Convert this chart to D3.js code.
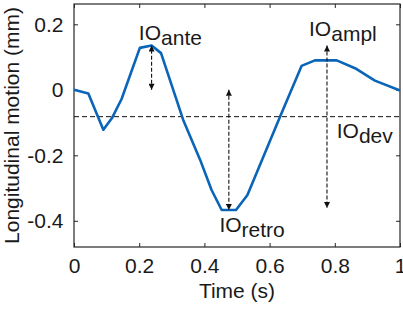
<!DOCTYPE html>
<html>
<head>
<meta charset="utf-8">
<script src="https://cdn.jsdelivr.net/npm/d3@7"></script>
<style>
  body { margin: 0; background: #fff; }
  text { font-family: "Liberation Sans", Arial, sans-serif; fill: #1a1a1a; }
</style>
</head>
<body>
<div id="chart"></div>
<script>
// values
const time   = [0, 0.044, 0.090, 0.116, 0.146, 0.202, 0.238, 0.267, 0.335, 0.387, 0.422, 0.453, 0.497, 0.532, 0.632, 0.698, 0.739, 0.806, 0.862, 0.923, 1.0];
const motion = [0, -0.011, -0.122, -0.087, -0.028, 0.128, 0.135, 0.112, -0.092, -0.214, -0.306, -0.367, -0.367, -0.321, -0.082, 0.073, 0.090, 0.090, 0.066, 0.028, -0.002];
const xTicks = [0, 0.2, 0.4, 0.6, 0.8, 1];
const yTicks = [-0.4, -0.2, 0, 0.2];
const deviation = -0.082;

// double arrows: time, from, to
const arrowTime = [0.238, 0.475, 0.776];
const arrowFrom = [0, 0, 0.135];
const arrowTo   = [0.135, -0.367, -0.361];

// labels IO + subscript
const labelSub   = ["ante", "retro", "ampl", "dev"];
const labelTime  = [0.199, 0.446, 0.721, 0.806];
const labelValue = [0.153, -0.435, 0.165, -0.147];

const margin = {top: 4, right: 3, bottom: 62, left: 74},
  width = 403 - margin.left - margin.right,
  height = 309 - margin.top - margin.bottom;

const svg = d3.select("#chart")
  .append("svg")
    .attr("width", 403)
    .attr("height", 309);

svg.append("defs").append("marker")
    .attr("id", "head")
    .attr("viewBox", "0 0 10 10")
    .attr("refX", 10).attr("refY", 5)
    .attr("markerUnits", "userSpaceOnUse")
    .attr("markerWidth", 8).attr("markerHeight", 6)
    .attr("orient", "auto-start-reverse")
  .append("path")
    .attr("d", "M0,0L10,5L0,10Z")
    .attr("fill", "#111");

const g = svg.append("g")
    .attr("transform", `translate(${margin.left},${margin.top})`);

const x = d3.scaleLinear().domain([0, 1]).range([0, width]);
const y = d3.scaleLinear().domain([-0.48, 0.262]).range([height, 0]);

// axes with ticks inside on all four sides
const fmt = d => d === 0 ? "0" : d3.format("")(d).replace("−", "-");

g.append("g")
  .attr("transform", `translate(0,${height})`)
  .call(d3.axisBottom(x).tickValues(xTicks).tickFormat(fmt).tickSizeInner(-4).tickSizeOuter(0).tickPadding(11));
g.append("g")
  .call(d3.axisTop(x).tickValues(xTicks).tickFormat("").tickSizeInner(-4).tickSizeOuter(0));
g.append("g")
  .call(d3.axisLeft(y).tickValues(yTicks).tickFormat(fmt).tickSizeInner(-4).tickSizeOuter(0).tickPadding(10.5));
g.append("g")
  .attr("transform", `translate(${width},0)`)
  .call(d3.axisRight(y).tickValues(yTicks).tickFormat("").tickSizeInner(-4).tickSizeOuter(0));

g.selectAll(".domain").remove();
g.selectAll(".tick line").attr("stroke", "#262626");
g.selectAll(".tick text").attr("font-size", 21).attr("fill", "#1a1a1a")
  .style("font-family", "'Liberation Sans', Arial, sans-serif");

g.append("rect")
  .attr("x", 0).attr("y", 0)
  .attr("width", width).attr("height", height)
  .attr("fill", "none")
  .attr("stroke", "#262626")
  .attr("stroke-width", 1.2);

// mean / deviation line
g.append("line")
  .attr("x1", x(0)).attr("x2", x(1))
  .attr("y1", y(deviation)).attr("y2", y(deviation))
  .attr("stroke", "#111")
  .attr("stroke-width", 1)
  .attr("stroke-dasharray", "5,3");

// motion curve
const data = time.map((t, i) => ({t: t, v: motion[i]}));
g.append("path")
  .datum(data)
  .attr("fill", "none")
  .attr("stroke", "#0a64b8")
  .attr("stroke-width", 2.6)
  .attr("stroke-linejoin", "round")
  .attr("d", d3.line().x(d => x(d.t)).y(d => y(d.v)));

// double arrows
g.selectAll("line.arrow")
  .data(arrowTime)
  .join("line")
    .attr("class", "arrow")
    .attr("x1", d => x(d)).attr("x2", d => x(d))
    .attr("y1", (d, i) => y(arrowFrom[i]))
    .attr("y2", (d, i) => y(arrowTo[i]))
    .attr("stroke", "#111")
    .attr("stroke-width", 1.1)
    .attr("stroke-dasharray", "4,2")
    .attr("marker-start", "url(#head)")
    .attr("marker-end", "url(#head)");

// labels
const lab = g.selectAll("text.lab")
  .data(labelSub)
  .join("text")
    .attr("class", "lab")
    .attr("x", (d, i) => x(labelTime[i]))
    .attr("y", (d, i) => y(labelValue[i]))
    .attr("font-size", 21);
lab.append("tspan").text("IO");
lab.append("tspan").attr("dy", 5).attr("font-size", 21).text(d => d);

// axis titles
svg.append("text")
  .attr("x", margin.left + width / 2)
  .attr("y", 298)
  .attr("text-anchor", "middle")
  .attr("font-size", 21)
  .text("Time (s)");

svg.append("text")
  .attr("transform", `translate(18.5,${margin.top + height / 2}) rotate(-90)`)
  .attr("text-anchor", "middle")
  .attr("font-size", 21)
  .text("Longitudinal motion (mm)");
</script>
</body>
</html>
